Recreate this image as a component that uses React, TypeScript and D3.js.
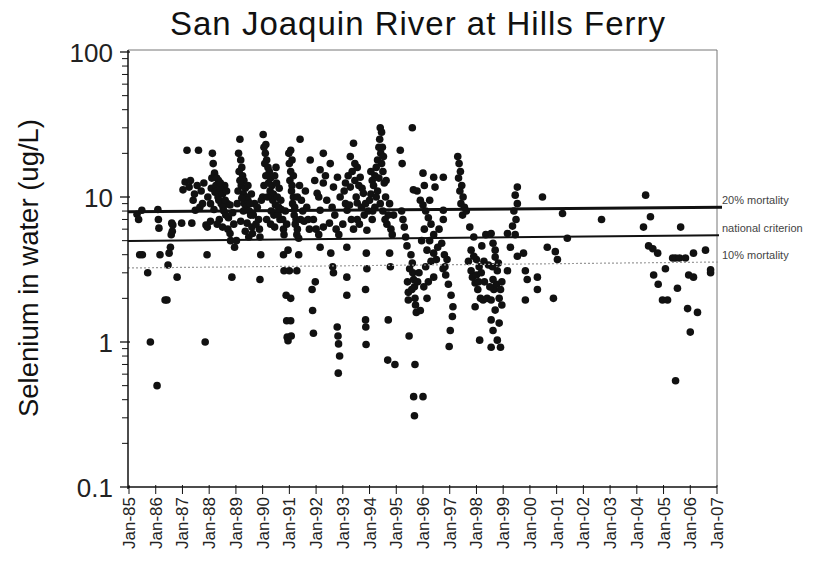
import React, { useRef, useEffect } from 'react';
import * as d3 from 'd3';

// Selenium samples, [decimal year, ug/L]
const samples1985to1988: [number, number][] = [
  [1985.30, 7.6], [1985.36, 7.0], [1985.48, 8.1], [1985.40, 4.0], [1985.50, 4.0], [1985.70, 3.0], [1985.80, 1.0], [1986.05, 0.5],
  [1986.08, 8.2], [1986.10, 7.0], [1986.12, 6.1], [1986.16, 4.0], [1986.35, 1.95], [1986.42, 1.95], [1986.46, 3.4],
  [1986.50, 4.1], [1986.55, 4.5], [1986.58, 5.5], [1986.62, 5.8], [1986.64, 6.4], [1986.80, 2.8], [1986.60, 6.6],
  [1986.97, 6.6], [1987.02, 11.2], [1987.10, 12.7], [1987.17, 21], [1987.25, 11.7], [1987.30, 13], [1987.35, 6.6],
  [1987.40, 9.5], [1987.45, 10.5], [1987.48, 8.1], [1987.60, 21], [1987.55, 12], [1987.65, 8.5], [1987.88, 6.4],
  [1987.93, 6.2], [1987.92, 4.0], [1987.85, 1.0], [1987.75, 9.0],
  [1987.70, 11], [1987.80, 12.5], [1987.95, 10], [1988.05, 9], [1988.08, 11.5], [1988.18, 8.2], [1988.22, 10.8],
  [1988.35, 13], [1988.38, 7], [1988.48, 11], [1988.58, 12], [1988.68, 9], [1988.72, 7.2], [1988.88, 7.8],
  [1988.05, 6.8], [1988.30, 6.5], [1988.50, 6.2], [1988.10, 13.5],
  [1988.12, 20], [1988.15, 17], [1988.20, 14.6], [1988.25, 12], [1988.28, 13.5], [1988.30, 11], [1988.33, 10],
  [1988.36, 9.5], [1988.40, 11.5], [1988.42, 12.5], [1988.45, 9], [1988.50, 10.5], [1988.52, 8.5], [1988.55, 8],
  [1988.60, 9.5], [1988.62, 7.5], [1988.65, 11], [1988.70, 6.0], [1988.78, 5.6], [1988.80, 5.0], [1988.78, 8.8],
  [1988.85, 2.8], [1988.95, 4.5], [1988.92, 6.5], [1989.02, 5.0],
];

const samples1989to1992: [number, number][] = [
  [1989.15, 25], [1989.10, 20], [1989.18, 18], [1989.22, 16], [1989.12, 15], [1989.25, 14], [1989.30, 13],
  [1989.20, 12], [1989.35, 11.5], [1989.28, 10.5], [1989.40, 10], [1989.32, 9], [1989.45, 9.5], [1989.38, 8.5],
  [1989.50, 8], [1989.42, 6.6], [1989.55, 7.5], [1989.35, 5.8], [1989.48, 5.3], [1989.60, 6.2], [1989.85, 7.0],
  [1989.88, 6.0], [1989.90, 5.3], [1989.93, 4.0], [1989.90, 2.7], [1989.70, 9],
  [1989.05, 9], [1989.08, 11], [1989.15, 13], [1989.22, 9.8], [1989.28, 8], [1989.45, 12], [1989.52, 9],
  [1989.58, 10.5], [1989.65, 7.5], [1989.75, 6.5], [1989.80, 8.5], [1989.95, 9.5], [1989.18, 6.8], [1989.62, 5.6],
  [1990.02, 27], [1990.05, 22], [1990.10, 20], [1990.15, 18], [1990.08, 17], [1990.20, 16], [1990.25, 15],
  [1990.12, 14], [1990.30, 13.5], [1990.22, 12.5], [1990.35, 12], [1990.28, 11], [1990.40, 10.5], [1990.45, 14],
  [1990.50, 16], [1990.38, 9.5], [1990.55, 10], [1990.48, 8.8], [1990.60, 8.5], [1990.42, 7.5], [1990.65, 7.0],
  [1990.30, 6.5], [1990.75, 7.0], [1990.78, 6.0], [1990.80, 5.5], [1990.78, 4.0], [1990.80, 3.1], [1990.88, 2.1],
  [1990.90, 1.4], [1990.92, 1.08], [1990.95, 1.02], [1990.70, 8.2],
  [1990.00, 10], [1990.05, 12], [1990.18, 10], [1990.32, 8], [1990.52, 12.5], [1990.58, 7.5], [1990.62, 11.5],
  [1990.68, 9.5], [1990.85, 8], [1990.90, 6.5], [1990.15, 7], [1990.45, 6.2], [1990.12, 23],
  [1990.98, 20], [1991.00, 17], [1991.05, 15], [1991.02, 13], [1991.10, 12], [1991.08, 11], [1991.15, 10],
  [1991.12, 9], [1991.20, 8.5], [1991.18, 7.5], [1991.25, 7], [1991.22, 6.5], [1991.30, 6], [1991.28, 5.5],
  [1991.35, 5.2], [1991.40, 25], [1991.45, 9.5], [1991.50, 8.0], [1991.55, 6.8], [1991.60, 11], [1990.95, 4.3],
  [1991.00, 3.1], [1991.28, 3.1], [1991.05, 2.0], [1991.05, 1.4], [1991.07, 1.1], [1991.85, 2.3], [1991.87, 1.65],
  [1991.90, 1.15], [1991.97, 2.6],
  [1991.05, 21], [1991.10, 18], [1991.15, 14], [1991.30, 10], [1991.38, 12], [1991.42, 7], [1991.65, 8.5],
  [1991.70, 7], [1991.75, 6], [1991.35, 4.0],
  [1991.78, 18], [1992.15, 15.4], [1992.27, 12.5], [1992.04, 10.6], [1992.40, 9.5], [1992.15, 8.1], [1991.90, 7],
  [1992.27, 6.2], [1992.50, 6.6], [1992.27, 20], [1992.53, 17], [1992.80, 13.7], [1992.65, 11.7], [1992.90, 10],
  [1991.95, 13], [1992.10, 10], [1992.35, 14], [1992.60, 8.5], [1992.70, 7.5], [1992.00, 6.0], [1992.10, 5.5],
  [1992.15, 4.5], [1992.55, 4.1], [1992.62, 3.3], [1992.65, 3.0], [1992.79, 1.27], [1992.82, 1.1], [1992.84, 0.97],
  [1992.88, 0.8], [1992.83, 0.61], [1992.75, 6.0], [1992.85, 5.5],
];

const samples1993to1996: [number, number][] = [
  [1993.05, 11], [1993.10, 9], [1993.16, 8.1], [1993.20, 14], [1993.28, 19], [1993.28, 11.7], [1993.35, 15],
  [1993.40, 23.5], [1993.45, 13], [1993.50, 10], [1993.54, 16], [1993.54, 9.1], [1993.54, 7], [1993.60, 12],
  [1993.65, 13.7], [1993.70, 8.5], [1993.77, 10.6], [1993.80, 7.5], [1993.90, 5.9], [1993.00, 6.5], [1993.15, 4.5],
  [1993.15, 2.8], [1993.15, 2.1], [1993.88, 4.1], [1993.90, 3.2], [1993.85, 2.3], [1993.85, 1.42], [1993.86, 1.27],
  [1993.87, 0.96], [1993.40, 6.0],
  [1993.10, 12.5], [1993.25, 8.8], [1993.32, 7], [1993.45, 17], [1993.62, 6.5], [1993.72, 11.5], [1993.85, 9],
  [1993.95, 8],
  [1994.40, 30], [1994.45, 28], [1994.38, 25], [1994.35, 22], [1994.42, 20], [1994.30, 18], [1994.45, 17],
  [1994.25, 16], [1994.50, 15], [1994.20, 14], [1994.35, 13.5], [1994.10, 13], [1994.55, 12.5], [1994.15, 12],
  [1994.30, 11], [1994.05, 10.5], [1994.60, 10], [1994.00, 9.5], [1994.40, 9], [1994.20, 8.5], [1994.50, 8],
  [1994.70, 7.5], [1994.10, 7], [1994.65, 6.5], [1994.80, 6], [1994.85, 5.5], [1994.75, 4.1], [1994.78, 3.3],
  [1994.70, 1.42], [1994.68, 0.75], [1994.95, 0.7],
  [1994.05, 15], [1994.12, 8], [1994.25, 10], [1994.48, 22], [1994.52, 19], [1994.58, 7], [1994.62, 13],
  [1994.75, 9], [1994.90, 7.5],
  [1995.15, 21], [1995.22, 17], [1995.60, 30], [1995.20, 8], [1995.25, 7], [1995.30, 6.2], [1995.35, 5.3],
  [1995.40, 4.6], [1995.42, 2.6], [1995.45, 1.95], [1995.48, 1.1], [1995.45, 2.2], [1995.55, 4.0], [1995.60, 3.5],
  [1995.62, 3.0], [1995.65, 2.7], [1995.68, 2.4], [1995.70, 2.0], [1995.72, 1.8], [1995.75, 1.6], [1995.70, 0.7],
  [1995.65, 0.42], [1995.68, 0.31], [1996.00, 0.42], [1995.78, 11], [1995.64, 11.2],
  [1995.50, 3.2], [1995.58, 2.3], [1995.80, 2.6], [1995.85, 3.0], [1996.10, 3.3], [1996.20, 2.6], [1996.30, 3.6],
  [1996.55, 4.5], [1995.95, 5.0], [1996.25, 5.0],
  [1996.00, 14.6], [1996.40, 13.7], [1996.05, 12], [1996.45, 11.7], [1995.90, 9.5], [1996.00, 8.8], [1996.10, 8.0],
  [1996.25, 9.5], [1996.20, 7.2], [1996.30, 6.5], [1996.05, 6.0], [1996.40, 5.5], [1996.15, 4.3], [1996.40, 4.1],
  [1996.50, 3.7], [1996.75, 3.2], [1996.40, 2.8], [1996.03, 2.4], [1996.15, 2.0], [1995.90, 1.65], [1996.76, 13.7],
  [1996.76, 8.1], [1996.76, 7.0], [1996.60, 6.0], [1996.70, 4.8],
];

const samples1997to2000: [number, number][] = [
  [1997.30, 19], [1997.35, 17], [1997.40, 15], [1997.33, 13.5], [1997.45, 12], [1997.38, 11], [1997.50, 10],
  [1997.42, 9], [1997.55, 8.5], [1997.48, 7.5], [1997.62, 8],
  [1996.80, 4.0], [1996.90, 3.7], [1996.82, 3.3], [1996.85, 2.9], [1996.95, 2.5], [1997.05, 2.1], [1997.12, 1.75],
  [1997.10, 1.5], [1997.02, 1.2], [1996.98, 0.93],
  [1997.75, 6.2], [1997.90, 5.3], [1997.80, 4.3], [1998.00, 3.7], [1997.80, 3.1], [1997.95, 2.55], [1998.05, 2.3],
  [1998.15, 2.0], [1997.95, 1.75], [1998.25, 1.95], [1998.12, 1.03], [1997.85, 2.8], [1998.10, 3.3], [1998.20, 4.6],
  [1998.30, 2.6], [1998.35, 5.5],
  [1997.70, 3.6], [1997.90, 3.9], [1998.00, 2.9], [1998.08, 2.6], [1998.18, 3.0], [1998.28, 3.6], [1998.40, 2.0],
  [1998.65, 2.3], [1998.75, 2.5], [1998.82, 3.5], [1998.95, 1.8], [1998.70, 4.3], [1998.60, 3.3],
  [1998.55, 5.6], [1998.62, 4.8], [1998.70, 3.85], [1998.78, 3.1], [1998.62, 2.7], [1998.90, 2.3], [1998.55, 1.95],
  [1998.70, 1.66], [1998.55, 1.42], [1998.62, 1.2], [1998.78, 1.03], [1998.55, 0.92], [1998.90, 0.92], [1998.85, 1.35],
  [1998.45, 3.4], [1998.85, 2.0], [1998.95, 2.6], [1998.50, 2.4],
  [1999.53, 11.7], [1999.45, 10.3], [1999.53, 9], [1999.40, 8], [1999.48, 7], [1999.35, 6.3], [1999.45, 5.5],
  [1999.16, 5.6], [1999.27, 4.5], [1999.53, 3.9], [1999.16, 3.1], [1999.76, 4.1], [1999.83, 3.1], [1999.90, 2.7],
  [1999.83, 1.95],
  [2000.28, 2.8], [2000.28, 2.3], [2000.47, 10], [2000.65, 4.5], [2000.95, 4.2], [2001.03, 3.7], [2000.88, 2.0],
];

const samples2001to2006: [number, number][] = [
  [2001.22, 7.7], [2001.40, 5.2], [2002.68, 7.0],
  [2004.33, 10.3], [2004.51, 7.3], [2004.25, 6.2], [2005.64, 6.2],
  [2004.44, 4.6], [2004.60, 4.4], [2004.78, 4.1],
  [2005.34, 3.8], [2005.45, 3.8], [2005.60, 3.8], [2005.82, 3.8],
  [2006.12, 4.1], [2006.57, 4.3], [2006.76, 3.0], [2006.76, 3.15],
  [2005.07, 3.2], [2004.63, 2.9], [2004.80, 2.5], [2005.94, 2.9], [2006.12, 2.8],
  [2005.52, 2.35], [2004.96, 1.95], [2005.15, 1.95], [2005.90, 1.7], [2006.27, 1.6], [2006.00, 1.17], [2005.45, 0.54],
];

// reference lines (value at left edge, value at right edge as drawn)
const thresholdNames = ['20% mortality', 'national criterion', '10% mortality'];
const thresholdStart = [7.9, 4.97, 3.24];
const thresholdEnd = [8.5, 5.45, 3.56];

const yTickValues = [0.1, 1, 10, 100];
const yTickLabels = ['0.1', '1', '10', '100'];
const xYears = d3.range(1985, 2008);

const FONT = "'Liberation Sans', Arial, Helvetica, sans-serif";

const App = () => {
  const chartRef = useRef<SVGSVGElement | null>(null);

  useEffect(() => {
    if (!chartRef.current) return;
    const svg = d3.select(chartRef.current);
    svg.selectAll('*').remove();

    const width = 835;
    const height = 573;
    const plot = { left: 128, right: 717, top: 50, bottom: 487 };

    const xScale = d3.scaleLinear().domain([1985, 2007]).range([plot.left + 1, plot.right]);
    const yScale = d3.scaleLog().domain([0.1, 100]).range([plot.bottom, plot.top + 2]);

    svg.attr('width', width).attr('height', height);

    // Title
    svg
      .append('text')
      .attr('x', 418)
      .attr('y', 35)
      .attr('text-anchor', 'middle')
      .style('font-family', FONT)
      .style('font-size', '33px')
      .style('letter-spacing', '1px')
      .attr('fill', '#111')
      .text('San Joaquin River at Hills Ferry');

    // Frame (top and right)
    svg
      .append('path')
      .attr('d', `M${plot.left},${plot.top}H${plot.right}V${plot.bottom}`)
      .attr('fill', 'none')
      .attr('stroke', '#777')
      .attr('stroke-width', 1);

    // Points
    const allSamples = [
      ...samples1985to1988,
      ...samples1989to1992,
      ...samples1993to1996,
      ...samples1997to2000,
      ...samples2001to2006,
    ];
    svg
      .append('g')
      .selectAll('circle')
      .data(allSamples)
      .join('circle')
      .attr('cx', (d) => xScale(d[0]))
      .attr('cy', (d) => yScale(d[1]))
      .attr('r', 3.8)
      .attr('fill', '#111');

    // Reference lines
    const refStyles = [
      { w: 3, color: '#111', dash: null, x2: 722 },
      { w: 2, color: '#111', dash: null, x2: 719 },
      { w: 1.2, color: '#999', dash: '2,2', x2: 719 },
    ];
    const labelY = [204, 232, 259];
    thresholdNames.forEach((name, i) => {
      const st = refStyles[i];
      const y1 = yScale(thresholdStart[i]);
      const y2 = yScale(thresholdEnd[i]);
      const line = svg
        .append('line')
        .attr('x1', plot.left)
        .attr('x2', st.x2)
        .attr('y1', y1)
        .attr('y2', y2)
        .attr('stroke', st.color)
        .attr('stroke-width', st.w);
      if (st.dash) line.attr('stroke-dasharray', st.dash);
      svg
        .append('text')
        .attr('x', 722)
        .attr('y', labelY[i])
        .style('font-family', FONT)
        .style('font-size', '11px')
        .attr('fill', '#444')
        .text(name);
    });

    // Y axis
    const yAxis = svg.append('g');
    yAxis
      .append('line')
      .attr('x1', plot.left)
      .attr('x2', plot.left)
      .attr('y1', plot.top)
      .attr('y2', plot.bottom + 2)
      .attr('stroke', '#111')
      .attr('stroke-width', 1.5);
    const minor = yScale.ticks().filter((t) => !yTickValues.some((v) => Math.abs(v - t) < 1e-9));
    yAxis
      .selectAll('.minor')
      .data(minor)
      .join('line')
      .attr('x1', plot.left - 6)
      .attr('x2', plot.left)
      .attr('y1', (d) => yScale(d))
      .attr('y2', (d) => yScale(d))
      .attr('stroke', '#111');
    yAxis
      .selectAll('.major')
      .data(yTickValues)
      .join('line')
      .attr('x1', plot.left - 8)
      .attr('x2', plot.left + 2)
      .attr('y1', (d) => yScale(d))
      .attr('y2', (d) => yScale(d))
      .attr('stroke', '#111')
      .attr('stroke-width', 1.3);
    yAxis
      .selectAll('.lab')
      .data(yTickValues)
      .join('text')
      .attr('x', 113)
      .attr('y', (d) => yScale(d) + 10)
      .attr('text-anchor', 'end')
      .style('font-family', FONT)
      .style('font-size', '26px')
      .attr('fill', '#222')
      .text((d, i) => yTickLabels[i]);

    svg
      .append('text')
      .attr('transform', `translate(38,268) rotate(-90)`)
      .attr('text-anchor', 'middle')
      .style('font-family', FONT)
      .style('font-size', '27.5px')
      .attr('fill', '#111')
      .text('Selenium in water (ug/L)');

    // X axis
    const xAxis = svg.append('g');
    xAxis
      .append('line')
      .attr('x1', plot.left)
      .attr('x2', plot.right)
      .attr('y1', plot.bottom)
      .attr('y2', plot.bottom)
      .attr('stroke', '#111')
      .attr('stroke-width', 1.5);
    xAxis
      .selectAll('.tick')
      .data(xYears)
      .join('line')
      .attr('x1', (d) => xScale(d))
      .attr('x2', (d) => xScale(d))
      .attr('y1', plot.bottom - 2)
      .attr('y2', plot.bottom + 7)
      .attr('stroke', '#111');
    xAxis
      .selectAll('.lab')
      .data(xYears)
      .join('text')
      .attr('transform', (d) => `translate(${xScale(d) + 6},${plot.bottom + 10}) rotate(-90)`)
      .attr('text-anchor', 'end')
      .style('font-family', FONT)
      .style('font-size', '17px')
      .attr('fill', '#222')
      .text((d) => `Jan-${String(d % 100).padStart(2, '0')}`);

    return () => {
      svg.selectAll('*').remove();
    };
  }, []);

  return (
    <svg
      ref={chartRef}
      style={{ position: 'absolute', left: 0, top: 0, background: '#fff' }}
    />
  );
};

export default App;
